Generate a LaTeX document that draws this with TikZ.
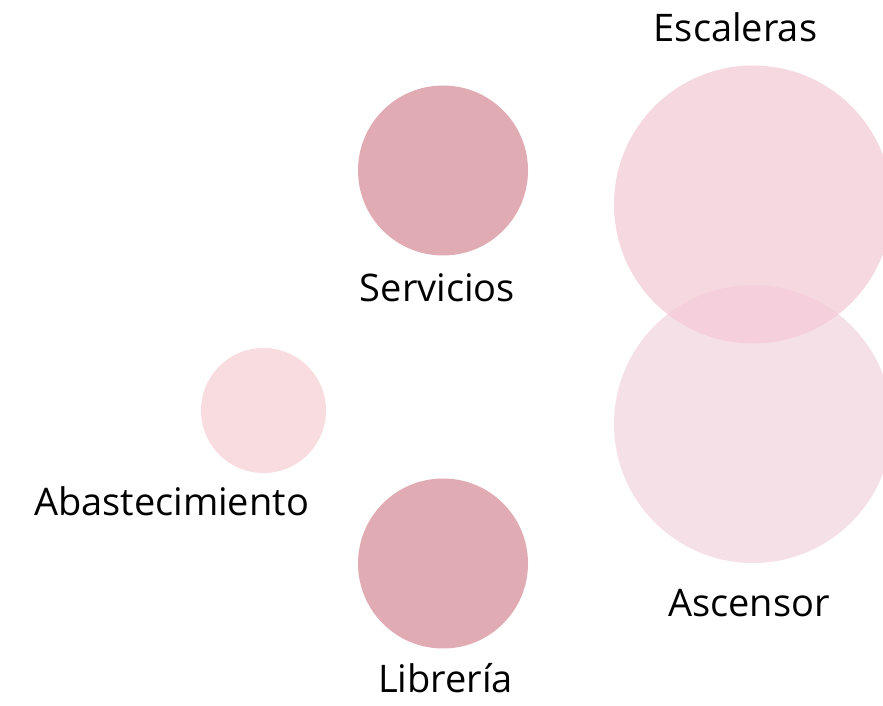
\documentclass[tikz,border=0pt]{standalone}
\usepackage{fontspec}
\setmainfont{Open Sans}
\definecolor{darkpink}{HTML}{E1ABB4}
\definecolor{lightpink}{HTML}{F9DCE0}
\definecolor{escpink}{HTML}{F6D8E0}
\definecolor{ascpink}{HTML}{F6E0E7}
\definecolor{overpink}{HTML}{F5CFDB}
\tikzset{
  lbl/.style={anchor=base, inner sep=0pt, font=\fontsize{38}{44}\selectfont, text=black},
  blob/.style={circle, inner sep=0pt, draw=none}
}
\begin{document}
\begin{tikzpicture}[x=1pt,y=1pt]
\useasboundingbox[fill=white] (0,0) rectangle (883,705);
% circles (y = 705 - pixel y)
\node[blob, fill=darkpink, minimum size=170] (serv) at (443,534.5) {};
\node[blob, fill=darkpink, minimum size=170] (libr) at (443,141.5) {};
\node[blob, fill=lightpink, minimum size=125] (abas) at (263.5,294.5) {};
\node[blob, fill=escpink, minimum size=278] (esc) at (753,500.5) {};
\node[blob, fill=ascpink, minimum size=278] (asc) at (753,281) {};
\begin{scope}
  \clip (753,500.5) circle (139);
  \fill[overpink] (753,281) circle (139);
\end{scope}
% labels
\node[lbl] (tesc) at (735.5,663) {Escaleras};
\node[lbl] (tserv) at (437.5,403.3) {Servicios};
\node[lbl] (tabas) at (171.5,190) {Abastecimiento};
\node[lbl] (tasc) at (749,88.3) {Ascensor};
\node[lbl] (tlibr) at (445.5,12.3) {Librería};
\end{tikzpicture}
\end{document}
